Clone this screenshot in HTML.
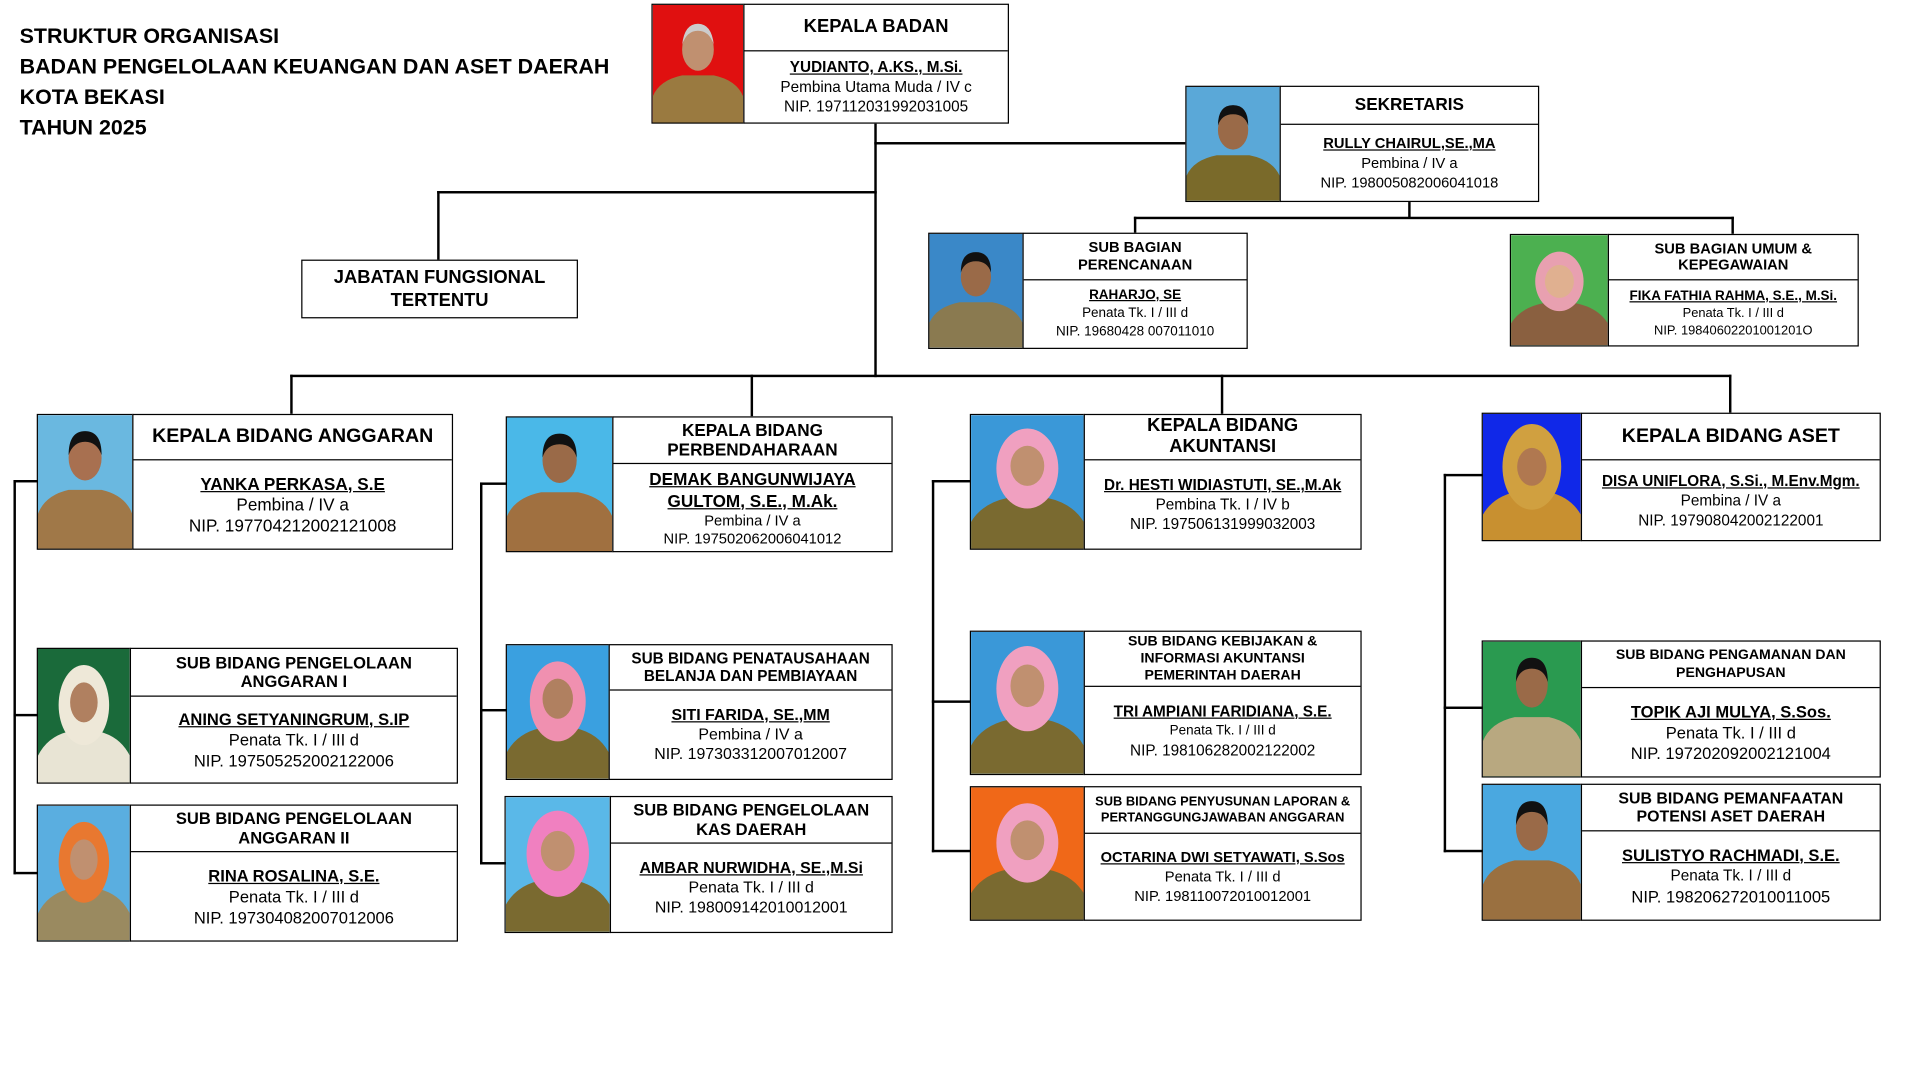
<!DOCTYPE html>
<html><head><meta charset="utf-8"><style>
html,body{margin:0;padding:0;background:#fff;overflow:hidden}
#w{position:absolute;left:0;top:0;width:1568px;height:882px;transform:scale(1.2245);transform-origin:0 0;font-family:"Liberation Sans",Arial,sans-serif;color:#000}
.a{position:absolute;box-sizing:border-box}
.ph{position:absolute;box-sizing:border-box;border:1.5px solid #000;overflow:hidden}
.ph svg{display:block;width:100%;height:100%}
.bx{position:absolute;box-sizing:border-box;border:1.5px solid #000;background:#fff;display:flex;flex-direction:column;text-align:center}
.t{box-sizing:border-box;border-bottom:1.5px solid #000;display:flex;align-items:center;justify-content:center;font-weight:bold;line-height:1.12}
.b{flex:1;display:flex;flex-direction:column;justify-content:center;line-height:1.25}
.n{font-weight:bold;text-decoration:underline}
.h{position:absolute;background:#000;height:2px}
.v{position:absolute;background:#000;width:2px}
.hd{position:absolute;left:16px;top:17px;font-weight:bold;font-size:17.5px;line-height:25px}
</style></head><body><div id="w">
<div class="hd">STRUKTUR ORGANISASI<br>BADAN PENGELOLAAN KEUANGAN DAN ASET DAERAH<br>KOTA BEKASI<br>TAHUN 2025</div>

<div class="v" style="left:714px;top:100px;height:208px"></div>
<div class="h" style="left:714px;top:116px;width:254px"></div>
<div class="h" style="left:357px;top:156px;width:359px"></div>
<div class="v" style="left:357px;top:156px;height:57px"></div>
<div class="v" style="left:1150px;top:164px;height:14px"></div>
<div class="h" style="left:926px;top:177px;width:490px"></div>
<div class="v" style="left:926px;top:177px;height:14px"></div>
<div class="v" style="left:1414px;top:177px;height:14px"></div>
<div class="h" style="left:237px;top:306px;width:1177px"></div>
<div class="v" style="left:237px;top:306px;height:32px"></div>
<div class="v" style="left:613px;top:306px;height:34px"></div>
<div class="v" style="left:997px;top:306px;height:32px"></div>
<div class="v" style="left:1412px;top:306px;height:31px"></div>

<div class="v" style="left:11px;top:392px;height:322px"></div>
<div class="h" style="left:11px;top:392px;width:20px"></div>
<div class="h" style="left:11px;top:583px;width:20px"></div>
<div class="h" style="left:11px;top:712px;width:20px"></div>
<div class="v" style="left:392px;top:394px;height:312px"></div>
<div class="h" style="left:392px;top:394px;width:22px"></div>
<div class="h" style="left:392px;top:579px;width:22px"></div>
<div class="h" style="left:392px;top:704px;width:22px"></div>
<div class="v" style="left:761px;top:392px;height:304px"></div>
<div class="h" style="left:761px;top:392px;width:32px"></div>
<div class="h" style="left:761px;top:572px;width:32px"></div>
<div class="h" style="left:761px;top:694px;width:32px"></div>
<div class="v" style="left:1179px;top:387px;height:309px"></div>
<div class="h" style="left:1179px;top:387px;width:32px"></div>
<div class="h" style="left:1179px;top:577px;width:32px"></div>
<div class="h" style="left:1179px;top:694px;width:32px"></div>

<div class="bx" style="left:246px;top:212px;width:226px;height:48px;justify-content:center;font-weight:bold;font-size:15px;line-height:19px">JABATAN FUNGSIONAL<br>TERTENTU</div>

<div class="ph" style="left:532px;top:3px;width:76px;height:98px"><svg viewBox="0 0 80 100" preserveAspectRatio="none"><rect width="80" height="100" fill="#e01010"/><path d="M0 100V78Q6 64 26 60H54Q74 64 80 78V100Z" fill="#9a7a40"/><ellipse cx="40" cy="38" rx="14" ry="18" fill="#c09070"/><path d="M26 34Q28 16 40 16Q52 16 54 34Q50 22 40 22Q30 22 26 34Z" fill="#ccc"/></svg></div>
<div class="bx" style="left:607px;top:3px;width:217px;height:98px"><div class="t" style="height:38px;font-size:15px">KEPALA BADAN</div><div class="b" style="font-size:12.5px;line-height:16px"><span class="n">YUDIANTO, A.KS., M.Si.</span><span>Pembina Utama Muda / IV c</span><span>NIP. 197112031992031005</span></div></div>

<div class="ph" style="left:968px;top:70px;width:78px;height:95px"><svg viewBox="0 0 80 100" preserveAspectRatio="none"><rect width="80" height="100" fill="#5aa8d8"/><path d="M0 100V78Q6 64 26 60H54Q74 64 80 78V100Z" fill="#7a6a2a"/><ellipse cx="40" cy="38" rx="13" ry="17" fill="#9a6a48"/><path d="M27 34Q27 16 40 16Q53 16 53 34Q50 24 40 24Q30 24 27 34Z" fill="#111"/></svg></div>
<div class="bx" style="left:1045px;top:70px;width:212px;height:95px"><div class="t" style="height:31px;font-size:14px">SEKRETARIS</div><div class="b" style="font-size:12px;line-height:16px"><span class="n">RULLY CHAIRUL,SE.,MA</span><span>Pembina / IV a</span><span>NIP. 198005082006041018</span></div></div>

<div class="ph" style="left:758px;top:190px;width:78px;height:95px"><svg viewBox="0 0 80 100" preserveAspectRatio="none"><rect width="80" height="100" fill="#3a88c8"/><path d="M0 100V78Q6 64 26 60H54Q74 64 80 78V100Z" fill="#8a7a50"/><ellipse cx="40" cy="38" rx="13" ry="17" fill="#9a6a48"/><path d="M27 34Q27 16 40 16Q53 16 53 34Q50 24 40 24Q30 24 27 34Z" fill="#111"/></svg></div>
<div class="bx" style="left:835px;top:190px;width:184px;height:95px"><div class="t" style="height:38px;font-size:12px">SUB BAGIAN<br>PERENCANAAN</div><div class="b" style="font-size:11px;line-height:15px"><span class="n">RAHARJO, SE</span><span>Penata Tk. I / III d</span><span>NIP. 19680428 007011010</span></div></div>

<div class="ph" style="left:1233px;top:191px;width:81px;height:92px"><svg viewBox="0 0 80 100" preserveAspectRatio="none"><rect width="80" height="100" fill="#4cb050"/><path d="M0 100V80Q8 66 26 62H54Q72 66 80 80V100Z" fill="#8a6040"/><ellipse cx="40" cy="42" rx="20" ry="27" fill="#e8a0b0"/><ellipse cx="40" cy="42" rx="12" ry="15" fill="#e0b090"/></svg></div>
<div class="bx" style="left:1313px;top:191px;width:205px;height:92px"><div class="t" style="height:37px;font-size:12px">SUB BAGIAN UMUM &amp;<br>KEPEGAWAIAN</div><div class="b" style="font-size:10.5px;line-height:14px"><span class="n" style="font-size:11px">FIKA FATHIA RAHMA, S.E., M.Si.</span><span>Penata Tk. I / III d</span><span>NIP. 19840602201001201O</span></div></div>

<div class="ph" style="left:30px;top:338px;width:79px;height:111px"><svg viewBox="0 0 80 100" preserveAspectRatio="none"><rect width="80" height="100" fill="#6ab8e0"/><path d="M0 100V74Q6 60 26 56H54Q74 60 80 74V100Z" fill="#a07848"/><ellipse cx="40" cy="32" rx="14" ry="17" fill="#a87050"/><path d="M26 30Q26 12 40 12Q54 12 54 30Q50 20 40 20Q30 20 26 30Z" fill="#111"/></svg></div>
<div class="bx" style="left:108px;top:338px;width:262px;height:111px"><div class="t" style="height:37px;font-size:16px">KEPALA BIDANG ANGGARAN</div><div class="b" style="font-size:14px;line-height:17px"><span class="n">YANKA PERKASA, S.E</span><span>Pembina / IV a</span><span>NIP. 197704212002121008</span></div></div>

<div class="ph" style="left:30px;top:529px;width:77px;height:111px"><svg viewBox="0 0 80 100" preserveAspectRatio="none"><rect width="80" height="100" fill="#1a6a3a"/><path d="M0 100V80Q8 66 26 62H54Q72 66 80 80V100Z" fill="#e8e4d4"/><ellipse cx="40" cy="42" rx="22" ry="30" fill="#eee8d8"/><ellipse cx="40" cy="40" rx="12" ry="15" fill="#b08060"/></svg></div>
<div class="bx" style="left:106px;top:529px;width:268px;height:111px"><div class="t" style="height:39px;font-size:13.5px">SUB BIDANG PENGELOLAAN<br>ANGGARAN I</div><div class="b" style="font-size:13.5px;line-height:17px"><span class="n">ANING SETYANINGRUM, S.IP</span><span>Penata Tk. I / III d</span><span>NIP. 197505252002122006</span></div></div>

<div class="ph" style="left:30px;top:657px;width:77px;height:112px"><svg viewBox="0 0 80 100" preserveAspectRatio="none"><rect width="80" height="100" fill="#5aaee0"/><path d="M0 100V80Q8 66 26 62H54Q72 66 80 80V100Z" fill="#9a8a60"/><ellipse cx="40" cy="42" rx="22" ry="30" fill="#e87830"/><ellipse cx="40" cy="40" rx="12" ry="15" fill="#c09070"/></svg></div>
<div class="bx" style="left:106px;top:657px;width:268px;height:112px"><div class="t" style="height:38px;font-size:13.5px">SUB BIDANG PENGELOLAAN<br>ANGGARAN II</div><div class="b" style="font-size:13.5px;line-height:17px"><span class="n">RINA ROSALINA, S.E.</span><span>Penata Tk. I / III d</span><span>NIP. 197304082007012006</span></div></div>

<div class="ph" style="left:413px;top:340px;width:88px;height:111px"><svg viewBox="0 0 80 100" preserveAspectRatio="none"><rect width="80" height="100" fill="#4ab8e8"/><path d="M0 100V74Q6 60 26 56H54Q74 60 80 74V100Z" fill="#a07040"/><ellipse cx="40" cy="32" rx="13" ry="17" fill="#9a6a48"/><path d="M27 30Q27 12 40 12Q53 12 53 30Q50 20 40 20Q30 20 27 30Z" fill="#111"/></svg></div>
<div class="bx" style="left:500px;top:340px;width:229px;height:111px"><div class="t" style="height:38px;font-size:14px">KEPALA BIDANG<br>PERBENDAHARAAN</div><div class="b" style="font-size:12px;line-height:15px"><span class="n" style="font-size:14px;line-height:18px">DEMAK BANGUNWIJAYA<br>GULTOM, S.E., M.Ak.</span><span>Pembina / IV a</span><span>NIP. 197502062006041012</span></div></div>

<div class="ph" style="left:413px;top:526px;width:85px;height:111px"><svg viewBox="0 0 80 100" preserveAspectRatio="none"><rect width="80" height="100" fill="#3aa0e0"/><path d="M0 100V80Q8 66 26 62H54Q72 66 80 80V100Z" fill="#7a6a30"/><ellipse cx="40" cy="42" rx="22" ry="30" fill="#f090b0"/><ellipse cx="40" cy="40" rx="12" ry="15" fill="#b08060"/></svg></div>
<div class="bx" style="left:497px;top:526px;width:232px;height:111px"><div class="t" style="height:37px;font-size:12.5px">SUB BIDANG PENATAUSAHAAN<br>BELANJA DAN PEMBIAYAAN</div><div class="b" style="font-size:13px;line-height:16px"><span class="n">SITI FARIDA, SE.,MM</span><span>Pembina / IV a</span><span>NIP. 197303312007012007</span></div></div>

<div class="ph" style="left:412px;top:650px;width:87px;height:112px"><svg viewBox="0 0 80 100" preserveAspectRatio="none"><rect width="80" height="100" fill="#5ab8e8"/><path d="M0 100V80Q8 66 26 62H54Q72 66 80 80V100Z" fill="#7a6a30"/><ellipse cx="40" cy="42" rx="24" ry="32" fill="#f080c0"/><ellipse cx="40" cy="40" rx="13" ry="15" fill="#c09070"/></svg></div>
<div class="bx" style="left:498px;top:650px;width:231px;height:112px"><div class="t" style="height:38px;font-size:13.5px">SUB BIDANG PENGELOLAAN<br>KAS DAERAH</div><div class="b" style="font-size:13px;line-height:16px"><span class="n">AMBAR NURWIDHA, SE.,M.Si</span><span>Penata Tk. I / III d</span><span>NIP. 198009142010012001</span></div></div>

<div class="ph" style="left:792px;top:338px;width:94px;height:111px"><svg viewBox="0 0 80 100" preserveAspectRatio="none"><rect width="80" height="100" fill="#3a98d8"/><path d="M0 100V80Q8 66 26 62H54Q72 66 80 80V100Z" fill="#7a6a30"/><ellipse cx="40" cy="40" rx="22" ry="30" fill="#f0a0c0"/><ellipse cx="40" cy="38" rx="12" ry="15" fill="#c09070"/></svg></div>
<div class="bx" style="left:885px;top:338px;width:227px;height:111px"><div class="t" style="height:37px;font-size:15px">KEPALA BIDANG<br>AKUNTANSI</div><div class="b" style="font-size:12.5px;line-height:16px"><span class="n">Dr. HESTI WIDIASTUTI, SE.,M.Ak</span><span>Pembina Tk. I / IV b</span><span>NIP. 197506131999032003</span></div></div>

<div class="ph" style="left:792px;top:515px;width:94px;height:118px"><svg viewBox="0 0 80 100" preserveAspectRatio="none"><rect width="80" height="100" fill="#3a98d8"/><path d="M0 100V80Q8 66 26 62H54Q72 66 80 80V100Z" fill="#7a6a30"/><ellipse cx="40" cy="40" rx="22" ry="30" fill="#f0a0c0"/><ellipse cx="40" cy="38" rx="12" ry="15" fill="#c09070"/></svg></div>
<div class="bx" style="left:885px;top:515px;width:227px;height:118px"><div class="t" style="height:45px;font-size:11.5px;line-height:14px">SUB BIDANG KEBIJAKAN &amp;<br>INFORMASI AKUNTANSI<br>PEMERINTAH DAERAH</div><div class="b" style="font-size:12.5px;line-height:16px"><span class="n">TRI AMPIANI FARIDIANA, S.E.</span><span style="font-size:11px">Penata Tk. I / III d</span><span>NIP. 198106282002122002</span></div></div>

<div class="ph" style="left:792px;top:642px;width:94px;height:110px"><svg viewBox="0 0 80 100" preserveAspectRatio="none"><rect width="80" height="100" fill="#f06818"/><path d="M0 100V80Q8 66 26 62H54Q72 66 80 80V100Z" fill="#7a6a30"/><ellipse cx="40" cy="42" rx="22" ry="30" fill="#f0a0c0"/><ellipse cx="40" cy="40" rx="12" ry="15" fill="#c09070"/></svg></div>
<div class="bx" style="left:885px;top:642px;width:227px;height:110px"><div class="t" style="height:38px;font-size:10.5px;line-height:13px">SUB BIDANG PENYUSUNAN LAPORAN &amp;<br>PERTANGGUNGJAWABAN ANGGARAN</div><div class="b" style="font-size:12px;line-height:16px"><span class="n">OCTARINA DWI SETYAWATI, S.Sos</span><span>Penata Tk. I / III d</span><span>NIP. 198110072010012001</span></div></div>

<div class="ph" style="left:1210px;top:337px;width:82px;height:105px"><svg viewBox="0 0 80 100" preserveAspectRatio="none"><rect width="80" height="100" fill="#1028e8"/><path d="M0 100V80Q8 66 26 62H54Q72 66 80 80V100Z" fill="#c89030"/><ellipse cx="40" cy="42" rx="24" ry="34" fill="#d0a040"/><ellipse cx="40" cy="42" rx="12" ry="15" fill="#b07850"/></svg></div>
<div class="bx" style="left:1291px;top:337px;width:245px;height:105px"><div class="t" style="height:38px;font-size:16px">KEPALA BIDANG ASET</div><div class="b" style="font-size:12.5px;line-height:16px"><span class="n">DISA UNIFLORA, S.Si., M.Env.Mgm.</span><span>Pembina / IV a</span><span>NIP. 197908042002122001</span></div></div>

<div class="ph" style="left:1210px;top:523px;width:82px;height:112px"><svg viewBox="0 0 80 100" preserveAspectRatio="none"><rect width="80" height="100" fill="#2a9a50"/><path d="M0 100V74Q6 60 26 56H54Q74 60 80 74V100Z" fill="#b8a880"/><ellipse cx="40" cy="32" rx="13" ry="17" fill="#9a6a48"/><path d="M27 30Q27 12 40 12Q53 12 53 30Q50 20 40 20Q30 20 27 30Z" fill="#111"/></svg></div>
<div class="bx" style="left:1291px;top:523px;width:245px;height:112px"><div class="t" style="height:38px;font-size:11.5px;line-height:15px">SUB BIDANG PENGAMANAN DAN<br>PENGHAPUSAN</div><div class="b" style="font-size:13.5px;line-height:17px"><span class="n">TOPIK AJI MULYA, S.Sos.</span><span>Penata Tk. I / III d</span><span>NIP. 197202092002121004</span></div></div>

<div class="ph" style="left:1210px;top:640px;width:82px;height:112px"><svg viewBox="0 0 80 100" preserveAspectRatio="none"><rect width="80" height="100" fill="#4aa8e0"/><path d="M0 100V74Q6 60 26 56H54Q74 60 80 74V100Z" fill="#9a7040"/><ellipse cx="40" cy="32" rx="13" ry="17" fill="#9a6a48"/><path d="M27 30Q27 12 40 12Q53 12 53 30Q50 20 40 20Q30 20 27 30Z" fill="#111"/></svg></div>
<div class="bx" style="left:1291px;top:640px;width:245px;height:112px"><div class="t" style="height:38px;font-size:13px">SUB BIDANG PEMANFAATAN<br>POTENSI ASET DAERAH</div><div class="b" style="font-size:13.5px;line-height:17px"><span class="n">SULISTYO RACHMADI, S.E.</span><span style="font-size:12.5px">Penata Tk. I / III d</span><span>NIP. 198206272010011005</span></div></div>

</div></body></html>
